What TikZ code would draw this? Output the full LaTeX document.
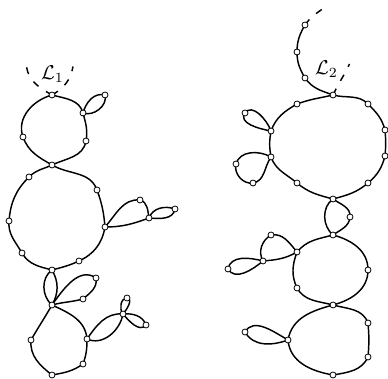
\documentclass[tikz,border=0pt]{standalone}
\begin{document}
\begin{tikzpicture}[x=1pt,y=1pt,
  edge/.style={line width=1.45pt},
  leg/.style={line width=1.45pt, dash pattern=on 7pt off 9pt},
  vtx/.style={circle, draw, fill=white, line width=0.8pt, minimum size=6pt, inner sep=0pt},
  lab/.style={scale=2, inner sep=0pt}]
\useasboundingbox (0,0) rectangle (388,379);
% ---------- left component coordinates
\coordinate (A1) at (52,284);
\coordinate (A2) at (83,266);
\coordinate (A3) at (105,284);
\coordinate (A4) at (23,242);
\coordinate (A5) at (86,238);
\coordinate (A6) at (52,214);
\coordinate (A7) at (29,202);
\coordinate (A8) at (9,158);
\coordinate (A9) at (22,126);
\coordinate (A10) at (52,109);
\coordinate (A11) at (79,118);
\coordinate (A12) at (105,152);
\coordinate (A13) at (97,189);
\coordinate (A14) at (140,179);
\coordinate (A15) at (149,161);
\coordinate (A16) at (175,170);
\coordinate (A17) at (52,74);
\coordinate (A18) at (96,101);
\coordinate (A19) at (83,80);
\coordinate (A20) at (31,39);
\coordinate (A21) at (52,4);
\coordinate (A22) at (83,15);
\coordinate (A23) at (87,40);
\coordinate (A24) at (123,65);
\coordinate (A25) at (127,81);
\coordinate (A26) at (146,54);
\coordinate (LA) at (26.5,312);
\coordinate (LB) at (73,312.5);
% ---------- right component coordinates
\coordinate (B1) at (333,284);
\coordinate (B2) at (368,275);
\coordinate (B3) at (385,249);
\coordinate (B4) at (385,223);
\coordinate (B5) at (368,196);
\coordinate (B6) at (333,180);
\coordinate (B7) at (297,196);
\coordinate (B8) at (271,222);
\coordinate (B9) at (271,248);
\coordinate (B10) at (297,275);
\coordinate (P1) at (245,266);
\coordinate (P2) at (236,215);
\coordinate (P3) at (253,196);
\coordinate (B11) at (333,144);
\coordinate (B12) at (350,162);
\coordinate (B13) at (297,127);
\coordinate (B14) at (297,91);
\coordinate (B15) at (333,74);
\coordinate (B16) at (368,109);
\coordinate (B17) at (271,144);
\coordinate (B18) at (263,118);
\coordinate (B19) at (228,110);
\coordinate (B20) at (368,56);
\coordinate (B21) at (368,22);
\coordinate (B22) at (333,4);
\coordinate (B23) at (288,39);
\coordinate (B24) at (245,47);
\coordinate (T1) at (305,301);
\coordinate (T2) at (297,327);
\coordinate (T3) at (305,354);
\coordinate (TE) at (323.5,370.7);
\coordinate (RE) at (349.5,315);
% ---------- left edges
\draw[edge] (A1) to[out=195,in=110] (A4) to[out=-70,in=150] (A6)
  to[out=25,in=-100] (A5) to[out=80,in=-75] (A2) to[out=105,in=-15] (A1);
\draw[edge] (A2) to[out=75,in=165] (A3) to[out=-75,in=-20] (A2);
\draw[edge] (A6) to[out=205,in=45] (A7) to[out=225,in=85] (A8)
  to[out=265,in=120] (A9) to[out=300,in=165] (A10) to[out=15,in=205] (A11)
  to[out=25,in=-100] (A12) to[out=95,in=-70] (A13) to[out=110,in=-30] (A6);
\draw[edge] (A12) to[out=48,in=175] (A14) to[out=-15,in=100] (A15) to[out=200,in=0] (A12);
\draw[edge] (A15) to[out=70,in=160] (A16) to[out=-100,in=-5] (A15);
\draw[edge] (A10) to[out=215,in=140] (A17);
\draw[edge] (A10) to[out=-60,in=60] (A17);
\draw[edge] (A17) to[out=55,in=145] (A18) to[out=-80,in=40] (A19) to[out=195,in=15] (A17);
\draw[edge] (A17) to[out=240,in=60] (A20) to[out=265,in=142] (A21)
  to[out=10,in=215] (A22) to[out=70,in=-90] (A23) to[out=95,in=-25] (A17);
\draw[edge] (A23) to[out=55,in=175] (A24);
\draw[edge] (A23) to[out=-25,in=-100] (A24);
\draw[edge] (A24) to[out=130,in=180] (A25) to[out=-10,in=50] (A24);
\draw[edge] (A24) to[out=5,in=110] (A26) to[out=230,in=-50] (A24);
\draw[leg] (A1) to[out=150,in=-80] (LA);
\draw[leg] (A1) to[out=30,in=-100] (LB);
% ---------- right edges
\draw[edge] (B1) to[out=193,in=20] (B10) to[out=210,in=70] (B9)
  to[out=260,in=100] (B8) to[out=290,in=140] (B7) to[out=320,in=165] (B6)
  to[out=15,in=220] (B5) to[out=40,in=255] (B4) to[out=85,in=-85] (B3)
  to[out=105,in=-45] (B2) to[out=135,in=-15] (B1);
\draw[edge] (B9) to[out=110,in=55] (P1) to[out=235,in=170] (B9);
\draw[edge] (B8) to[out=150,in=75] (P2) to[out=255,in=190] (P3) to[out=10,in=235] (B8);
\draw[edge] (B6) to[out=215,in=140] (B11);
\draw[edge] (B6) to[out=-35,in=85] (B12) to[out=265,in=35] (B11);
\draw[edge] (B11) to[out=195,in=50] (B13) to[out=250,in=115] (B14)
  to[out=300,in=165] (B15) to[out=15,in=-90] (B16) to[out=90,in=-15] (B11);
\draw[edge] (B13) to[out=130,in=10] (B17) to[out=210,in=120] (B18) to[out=5,in=210] (B13);
\draw[edge] (B18) to[out=165,in=80] (B19) to[out=-60,in=220] (B18);
\draw[edge] (B15) to[out=195,in=80] (B23) to[out=275,in=170] (B22)
  to[out=10,in=245] (B21) to[out=85,in=-85] (B20) to[out=110,in=-15] (B15);
\draw[edge] (B23) to[out=150,in=60] (B24) to[out=-60,in=200] (B23);
\draw[edge] (B1) to[out=160,in=-55] (T1) to[out=120,in=-90] (T2) to[out=90,in=-120] (T3);
\draw[leg] (T3) to[out=55,in=-145] (TE);
\draw[leg] (B1) to[out=65,in=-115] (RE);
% ---------- vertices
\foreach \v in {A1,A2,A3,A4,A5,A6,A7,A8,A9,A10,A11,A12,A13,A14,A15,A16,A17,A18,A19,A20,A21,A22,A23,A24,A25,A26,
  B1,B2,B3,B4,B5,B6,B7,B8,B9,B10,P1,P2,P3,B11,B12,B13,B14,B15,B16,B17,B18,B19,B20,B21,B22,B23,B24,T1,T2,T3}
  \node[vtx] (n\v) at (\v) {};
% ---------- labels
\node[lab, anchor=base] (lab1) at (52.5,299.5) {$\mathcal{L}_1$};
\node[lab, anchor=base] (lab2) at (326.5,304) {$\mathcal{L}_2$};
\end{tikzpicture}
\end{document}
